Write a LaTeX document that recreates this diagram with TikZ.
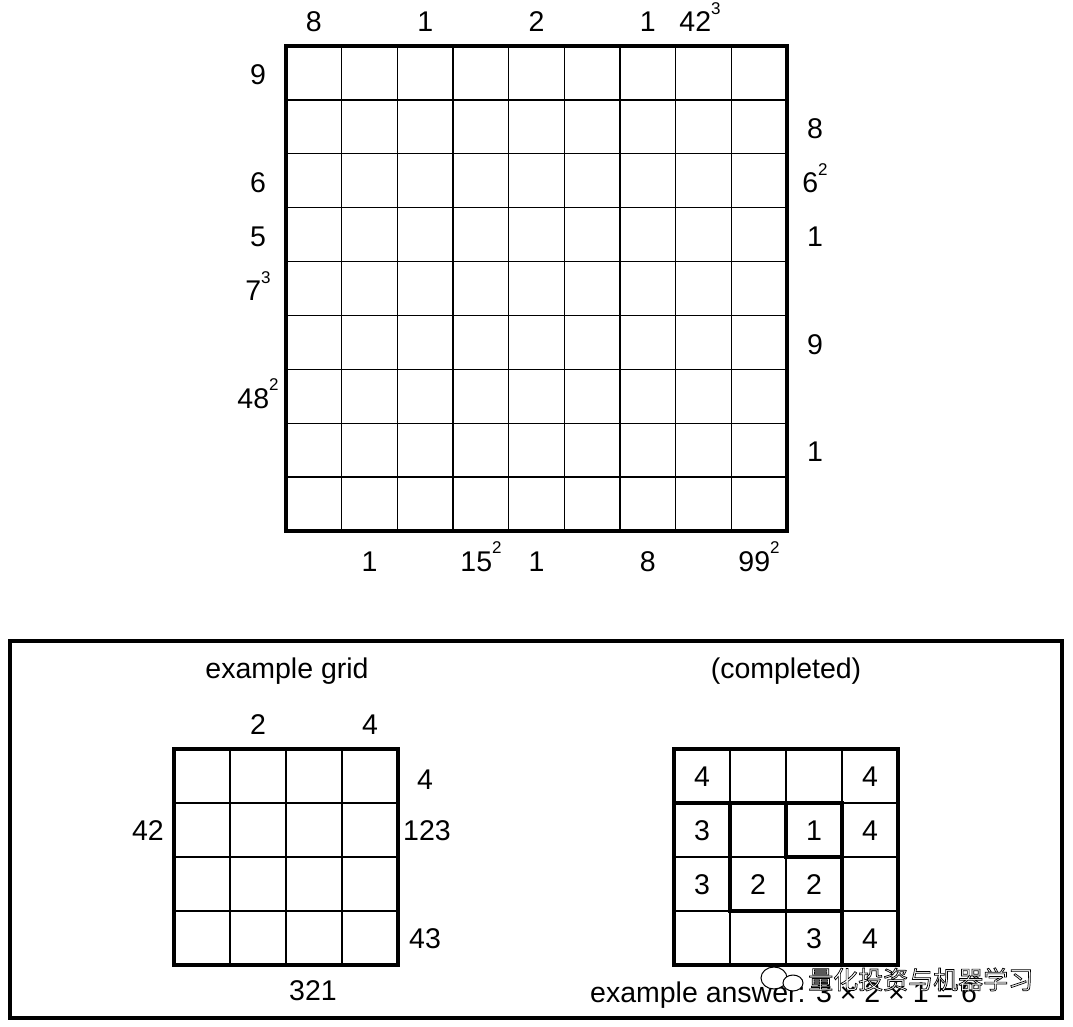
\documentclass[tikz,border=0pt]{standalone}
\usepackage{fontspec}
\setmainfont{Liberation Sans}
\newfontfamily\cjkfont{Noto Sans CJK SC}
\newcommand\supr[1]{\raisebox{0.6em}{\fontsize{17}{17}\selectfont #1}}
\begin{document}
\begin{tikzpicture}[x=1pt,y=-1pt,
  lab/.style={font=\fontsize{28.5}{32}\selectfont, inner sep=0pt, anchor=base},
  gridthin/.style={line width=1.3pt},
  gridthick/.style={line width=4pt, line join=miter, line cap=rect},
  wmark/.style={font=\cjkfont\fontsize{25}{25}\selectfont, inner sep=0pt, anchor=base west},
]
\useasboundingbox[fill=white] (0,0) rectangle (1073,1027);

% ---------- main 9x9 grid ----------
\foreach \i in {1,...,8} \draw[gridthin] ({286+\i*55.67},46) -- ({286+\i*55.67},531);
\foreach \j in {1,...,8} \draw[gridthin] (286,{46+\j*53.89}) -- (787,{46+\j*53.89});
\draw[gridthick] (286,46) rectangle (787,531);

% top clues
\node[lab] (t1) at (313.8,32) {8};
\node[lab] (t3) at (425.2,32) {1};
\node[lab] (t5) at (536.5,32) {2};
\node[lab] (t7) at (647.9,32) {1};
\node[lab] (t8) at (700,32) {42\supr{3}};
% left clues
\node[lab] (l1) at (258,84.6) {9};
\node[lab] (l3) at (258,192.4) {6};
\node[lab] (l4) at (258,246.3) {5};
\node[lab] (l5) at (258,300.2) {7\supr{3}};
\node[lab] (l7) at (258,408) {48\supr{2}};
% right clues
\node[lab] (r2) at (815,138.5) {8};
\node[lab] (r3) at (815,192.4) {6\supr{2}};
\node[lab] (r4) at (815,246.3) {1};
\node[lab] (r6) at (815,354.1) {9};
\node[lab] (r8) at (815,461.9) {1};
% bottom clues
\node[lab] (b2) at (369.5,571) {1};
\node[lab] (b4) at (481,571) {15\supr{2}};
\node[lab] (b5) at (536.5,571) {1};
\node[lab] (b7) at (647.9,571) {8};
\node[lab] (b9) at (759,571) {99\supr{2}};

% ---------- example box ----------
\draw[gridthick] (10,641) rectangle (1062,1018);

% example grid
\foreach \x in {230,286,342} \draw[gridthin] (\x,749) -- (\x,965);
\foreach \y in {803,857,911} \draw[gridthin] (174,\y) -- (398,\y);
\draw[gridthick] (174,749) rectangle (398,965);
\node[lab] (extitle) at (287,678) {example grid};
\node[lab] (et2) at (258,734) {2};
\node[lab] (et4) at (370,734) {4};
\node[lab] (er1) at (425,789) {4};
\node[lab] (er2) at (427,840) {123};
\node[lab] (er4) at (425,948) {43};
\node[lab] (el2) at (148,840) {42};
\node[lab] (eb3) at (313,1000) {321};

% completed grid
\foreach \x in {730,786,842} \draw[gridthin] (\x,749) -- (\x,965);
\foreach \y in {803,857,911} \draw[gridthin] (674,\y) -- (898,\y);
\draw[gridthick] (674,749) rectangle (898,965);
\draw[gridthick] (674,803) -- (842,803);
\draw[gridthick] (730,803) -- (730,911) -- (842,911);
\draw[gridthick] (786,803) -- (786,857) -- (842,857);
\draw[gridthick] (842,803) -- (842,965);
\node[lab] (cotitle) at (786,678) {(completed)};
\node[lab] (c11) at (702,786) {4};
\node[lab] (c14) at (870,786) {4};
\node[lab] (c21) at (702,840) {3};
\node[lab] (c23) at (814,840) {1};
\node[lab] (c24) at (870,840) {4};
\node[lab] (c31) at (702,894) {3};
\node[lab] (c32) at (758,894) {2};
\node[lab] (c33) at (814,894) {2};
\node[lab] (c43) at (814,948) {3};
\node[lab] (c44) at (870,948) {4};

\node[lab, anchor=base west] (answer) at (590,1002) {example answer: 3 × 2 × 1 = 6};

% watermark
\draw[line width=1pt, fill=white] (774,978) ellipse (13 and 11);
\draw[line width=1pt, fill=white] (793,983) ellipse (10 and 8);
\node[wmark] (wm) at (808,989) {\color{white}\special{pdf:code 2 Tr 0.7 w 0 G}量化投资与机器学习\special{pdf:code 0 Tr}};
\end{tikzpicture}
\end{document}
